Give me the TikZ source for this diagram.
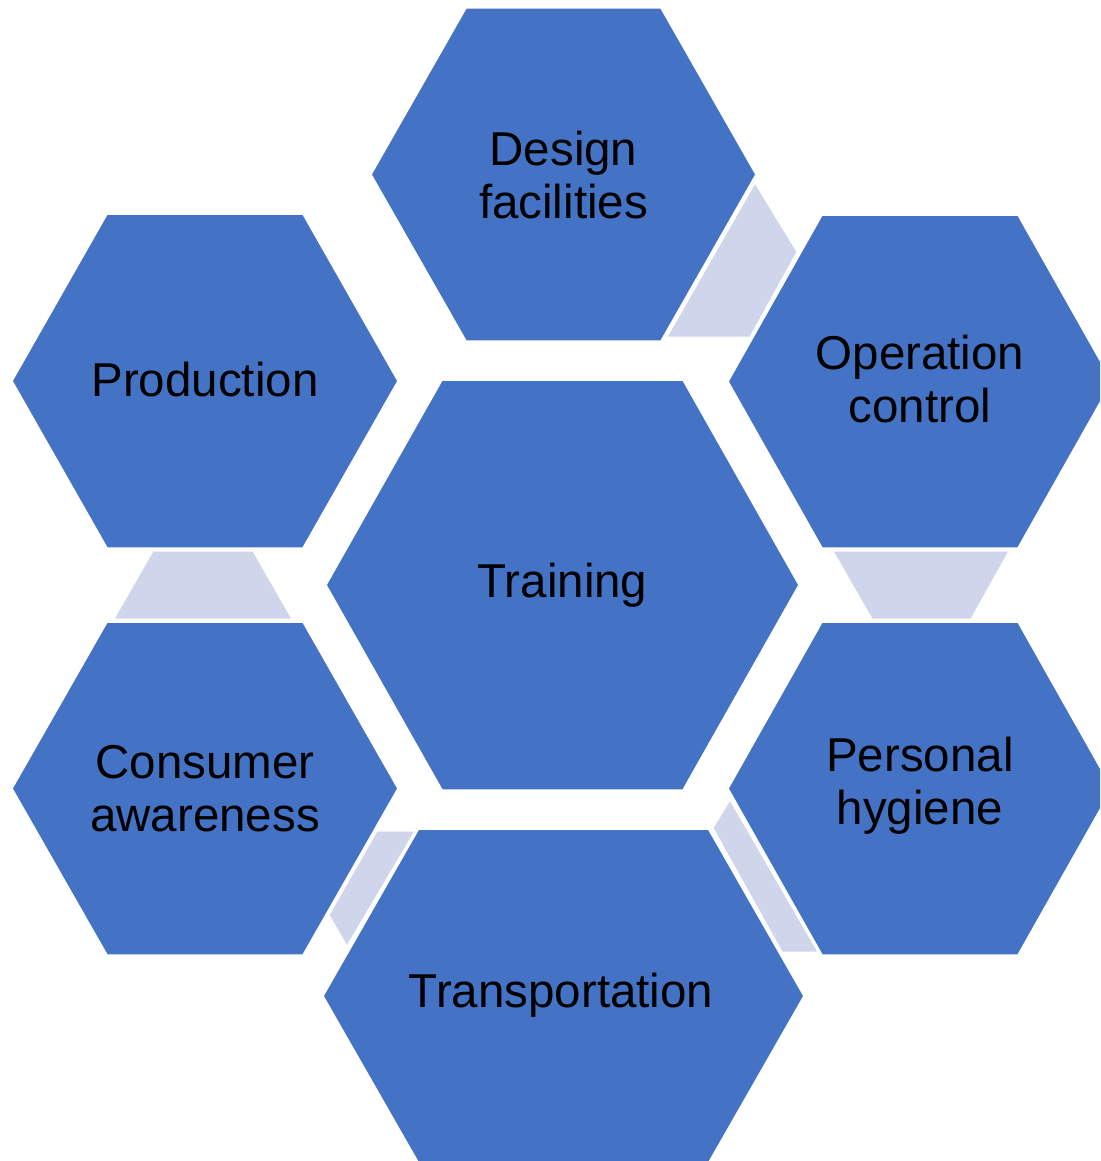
\documentclass[tikz,border=0pt]{standalone}
\usepackage{fontspec}
\setmainfont{Liberation Sans}
\definecolor{hexblue}{HTML}{4472C4}
\definecolor{linkfill}{HTML}{CFD5EA}
\def\drawhex#1#2#3#4#5{\path[hexa] (#1-#3,#2) -- (#1-#4,#2-#5) -- (#1+#4,#2-#5) -- (#1+#3,#2) -- (#1+#4,#2+#5) -- (#1-#4,#2+#5) -- cycle;}
\begin{document}
\begin{tikzpicture}[x=1pt,y=-1pt,
  hexa/.style={fill=hexblue,draw=white,line width=1.5pt,line join=miter},
  link/.style={fill=linkfill,draw=white,line width=1pt},
  lbl/.style={align=center,font=\fontsize{47.5}{53}\selectfont,text=black,inner sep=0pt}]
\useasboundingbox (0,0) rectangle (1100,1161);
\clip (0,0) rectangle (1100,1161);
% links
\path[link] (755,183) -- (797,252) -- (750,337) -- (667,337) -- cycle;
\path[link] (153,551) -- (253,551) -- (292,619) -- (114,619) -- cycle;
\path[link] (833,551) -- (1009,551) -- (971,619) -- (872,619) -- cycle;
\path[link] (377,831) -- (415,831) -- (347,946) -- (329,915) -- cycle;
\path[link] (730,800) -- (713,828) -- (782,952) -- (818,952) -- cycle;
% hexagons
\drawhex{563.5}{174.5}{192.5}{97.5}{166.5}
\drawhex{920}{381.5}{192}{98}{166.5}
\drawhex{205}{381}{193}{98}{167}
\drawhex{562.5}{585}{236.5}{120.5}{205}
\drawhex{205}{788.5}{193}{98}{166.5}
\drawhex{920}{788.5}{192}{98}{166.5}
\drawhex{563.5}{996}{240.5}{145}{167}
% labels
\node[lbl] (design) at (563.5,175) {Design\\facilities};
\node[lbl] (operation) at (920,379) {Operation\\control};
\node[lbl] (production) at (205,380) {Production};
\node[lbl] (training) at (562.5,585) {Training};
\node[lbl] (consumer) at (205,789) {Consumer\\awareness};
\node[lbl] (personal) at (920,786) {Personal\\hygiene};
\node[lbl] (transport) at (561,995) {Transportation};
\end{tikzpicture}
\end{document}
